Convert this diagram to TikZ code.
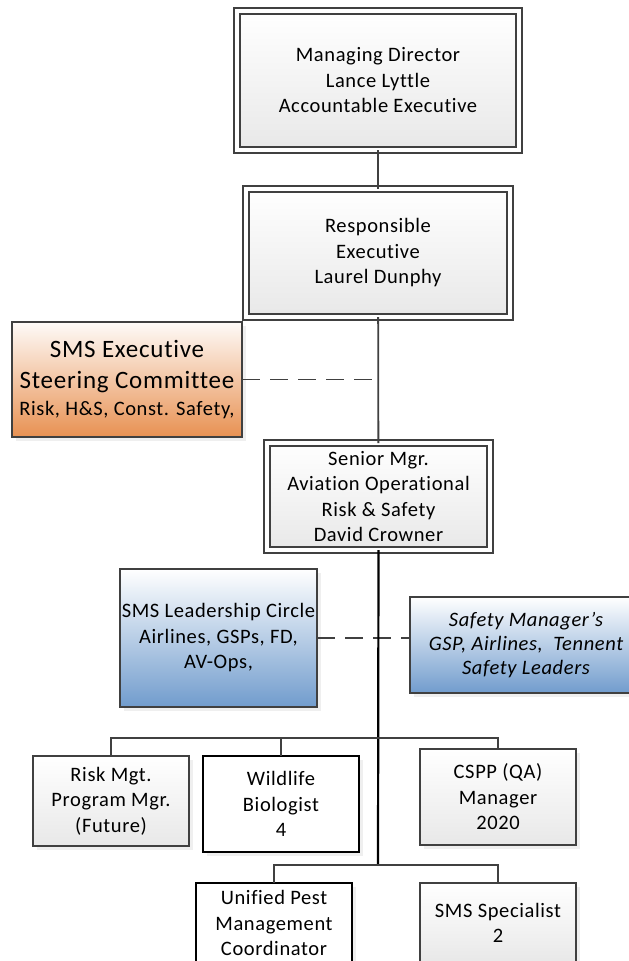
\documentclass[tikz,border=0pt]{standalone}
\usepackage{fontspec}
\setmainfont{Carlito}[Ligatures=NoCommon, LetterSpace=3]
\usetikzlibrary{shadows}
\definecolor{execorange}{RGB}{232,145,82}
\definecolor{leadblue}{RGB}{113,156,205}
\definecolor{boxline}{RGB}{64,64,64}

\begin{document}
\begin{tikzpicture}[x=1pt, y=-1pt,
  box/.style = {shape=rectangle, align=center, inner sep=2pt, outer sep=0pt,
    font=\fontsize{20.5}{25.5}\selectfont,
    drop shadow={shadow xshift=4pt, shadow yshift=-4pt, fill=black!12}},
  officer/.style = {box, draw=boxline, line width=1.3pt, double=white,
    double distance=4.7pt, top color=white, bottom color=black!9},
  staff/.style = {box, draw=boxline, line width=1.6pt,
    top color=white, bottom color=black!9},
  fieldpost/.style = {box, draw=black, line width=2pt, fill=white},
  committee/.style = {box, draw=boxline, line width=1.6pt,
    top color=execorange!4, bottom color=execorange},
  leadership/.style = {box, draw=boxline, line width=1.6pt,
    top color=white, bottom color=leadblue},
  link/.style = {draw=boxline, line width=1.8pt},
  advise/.style = {link, dash pattern=on 18pt off 10pt}]
  \useasboundingbox (0,0) rectangle (629,961);

  \node[officer, minimum width=282pt, minimum height=139pt] (md) at (378,80.5)
    {Managing Director\\ Lance Lyttle\\ Accountable Executive};
  \node[officer, minimum width=264pt, minimum height=128pt] (resp) at (378,253)
    {Responsible\\ Executive\\ Laurel Dunphy};
  \node[committee, minimum width=230pt, minimum height=115pt] (exec) at (127,379.5)
    {\fontsize{25}{31}\selectfont SMS Executive\\[5.5pt]
     \fontsize{25}{31}\selectfont Steering Committee\\[1pt]
     \fontsize{20.5}{25.5}\selectfont Risk, H\&S, Const. Safety,};
  \node[officer, minimum width=223pt, minimum height=107pt] (sen) at (378.5,496.5)
    {Senior Mgr.\\ Aviation Operational\\ Risk \& Safety\\ David Crowner};
  \node[leadership, minimum width=193pt, minimum height=138pt] (lead) at (218.5,638)
    {SMS Leadership Circle\\ Airlines, GSPs, FD,\\ AV-Ops,};
  \node[leadership, font=\fontsize{20.5}{24}\selectfont\itshape,
    minimum width=232pt, minimum height=96pt] (safe) at (526,645)
    {Safety Manager’s\\ GSP, Airlines, \ Tennent\\ Safety Leaders};

  \node[staff, minimum width=156pt, minimum height=90pt] (risk) at (111,801)
    {Risk Mgt.\\ Program Mgr.\\ (Future)};
  \node[fieldpost, minimum width=156pt, minimum height=96pt] (wild) at (281,804)
    {Wildlife\\ Biologist\\ 4};
  \node[staff, minimum width=156pt, minimum height=96pt] (cspp) at (498,797)
    {CSPP (QA)\\ Manager\\ 2020};
  \node[fieldpost, minimum width=156pt, minimum height=80pt] (upm) at (274,923)
    {Unified Pest\\ Management\\ Coordinator};
  \node[staff, minimum width=156pt, minimum height=80pt] (spec) at (498,923)
    {SMS Specialist\\ 2};

  \coordinate (row1) at (378,738);
  \coordinate (row2) at (378,865);

  \draw[link] (md) -- (resp);
  \draw[link] (resp) -- (sen);
  \draw[advise] (exec.east) -- (exec.east -| resp.south);
  \draw[advise] (lead.east) -- (lead.east -| safe.west);
  \draw[draw=black, line width=2.2pt] (sen.south) -- (row2);
  \draw[link] (row1) -| (risk.north);
  \draw[link] (row1) -| (wild.north);
  \draw[link] (row1) -| (cspp.north);
  \draw[link] (row2) -| (upm.north);
  \draw[link] (row2) -| (spec.north);
\end{tikzpicture}
\end{document}
